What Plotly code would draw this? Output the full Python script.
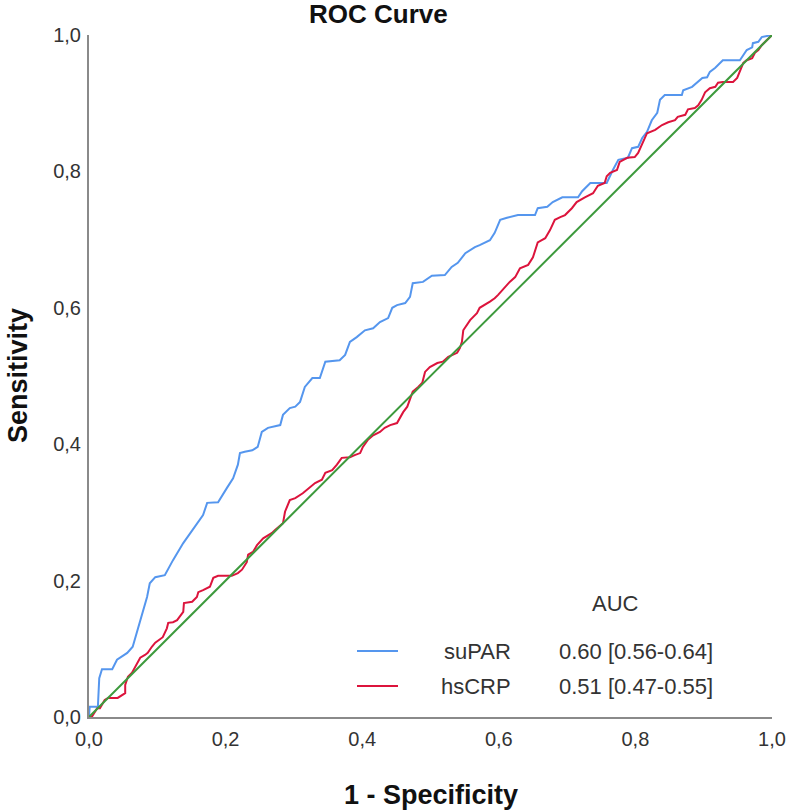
import plotly.graph_objects as go

# ---- data ----
supar_fpr = [0, 0.001, 0.013, 0.015, 0.019, 0.034, 0.041, 0.056, 0.064, 0.072, 0.079, 0.085, 0.089,
             0.097, 0.111, 0.123, 0.138, 0.152, 0.167, 0.173, 0.189, 0.202, 0.211, 0.218, 0.221,
             0.228, 0.239, 0.247, 0.253, 0.262, 0.280, 0.284, 0.294, 0.302, 0.309, 0.316, 0.327,
             0.338, 0.346, 0.367, 0.375, 0.382, 0.392, 0.404, 0.416, 0.426, 0.438, 0.444, 0.451,
             0.463, 0.470, 0.474, 0.489, 0.502, 0.521, 0.531, 0.540, 0.551, 0.565, 0.572, 0.587,
             0.594, 0.602, 0.612, 0.628, 0.653, 0.657, 0.671, 0.679, 0.693, 0.716, 0.722, 0.734,
             0.758, 0.763, 0.767, 0.775, 0.789, 0.795, 0.804, 0.810, 0.817, 0.824, 0.832, 0.836,
             0.843, 0.868, 0.870, 0.883, 0.890, 0.898, 0.905, 0.909, 0.917, 0.924, 0.928, 0.953,
             0.958, 0.963, 0.971, 0.972, 0.980, 0.985, 1.0]
supar_tpr = [0, 0.015, 0.015, 0.057, 0.070, 0.070, 0.084, 0.094, 0.103, 0.132, 0.154, 0.176, 0.196,
             0.205, 0.208, 0.230, 0.255, 0.274, 0.296, 0.314, 0.315, 0.336, 0.350, 0.370, 0.387,
             0.389, 0.391, 0.396, 0.418, 0.424, 0.428, 0.443, 0.453, 0.455, 0.462, 0.484, 0.497,
             0.497, 0.521, 0.523, 0.531, 0.550, 0.557, 0.567, 0.570, 0.579, 0.585, 0.600, 0.604,
             0.607, 0.616, 0.636, 0.638, 0.647, 0.648, 0.660, 0.666, 0.680, 0.689, 0.692, 0.699,
             0.710, 0.729, 0.732, 0.736, 0.736, 0.746, 0.748, 0.755, 0.762, 0.762, 0.771, 0.783,
             0.783, 0.795, 0.802, 0.817, 0.820, 0.834, 0.836, 0.849, 0.858, 0.875, 0.886, 0.905,
             0.912, 0.912, 0.919, 0.924, 0.930, 0.937, 0.938, 0.946, 0.952, 0.959, 0.963, 0.963,
             0.971, 0.978, 0.982, 0.988, 0.990, 0.997, 1.0]

hscrp_fpr = [0, 0.004, 0.012, 0.016, 0.023, 0.028, 0.042, 0.048, 0.053, 0.053, 0.057, 0.063, 0.070,
             0.075, 0.082, 0.086, 0.092, 0.097, 0.108, 0.114, 0.116, 0.123, 0.129, 0.138, 0.139,
             0.151, 0.158, 0.160, 0.167, 0.177, 0.182, 0.189, 0.209, 0.218, 0.224, 0.231, 0.233,
             0.240, 0.246, 0.255, 0.268, 0.272, 0.284, 0.287, 0.294, 0.302, 0.313, 0.324, 0.331,
             0.341, 0.346, 0.356, 0.363, 0.370, 0.382, 0.389, 0.397, 0.401, 0.408, 0.416, 0.426,
             0.433, 0.441, 0.451, 0.455, 0.460, 0.466, 0.470, 0.474, 0.482, 0.488, 0.492, 0.499,
             0.510, 0.518, 0.526, 0.539, 0.543, 0.546, 0.548, 0.558, 0.568, 0.572, 0.587, 0.594,
             0.599, 0.609, 0.616, 0.624, 0.631, 0.643, 0.650, 0.657, 0.668, 0.675, 0.682, 0.690,
             0.697, 0.707, 0.714, 0.726, 0.738, 0.745, 0.755, 0.758, 0.763, 0.773, 0.777, 0.788,
             0.799, 0.804, 0.811, 0.817, 0.829, 0.839, 0.848, 0.858, 0.862, 0.873, 0.877, 0.887,
             0.892, 0.897, 0.902, 0.909, 0.917, 0.921, 0.928, 0.943, 0.949, 0.953, 0.958, 0.963,
             0.971, 0.975, 0.980, 0.985, 0.993, 1.0]
hscrp_tpr = [0, 0, 0.013, 0.013, 0.025, 0.028, 0.028, 0.032, 0.035, 0.047, 0.059, 0.065, 0.079,
             0.087, 0.091, 0.094, 0.103, 0.109, 0.117, 0.130, 0.138, 0.139, 0.142, 0.154, 0.167,
             0.169, 0.176, 0.183, 0.186, 0.191, 0.204, 0.207, 0.207, 0.211, 0.216, 0.227, 0.238,
             0.242, 0.252, 0.262, 0.270, 0.274, 0.284, 0.301, 0.318, 0.321, 0.328, 0.337, 0.343,
             0.348, 0.358, 0.362, 0.370, 0.380, 0.381, 0.384, 0.387, 0.396, 0.406, 0.413, 0.418,
             0.424, 0.428, 0.431, 0.438, 0.447, 0.455, 0.465, 0.477, 0.484, 0.490, 0.506, 0.513,
             0.519, 0.521, 0.528, 0.534, 0.541, 0.550, 0.567, 0.582, 0.592, 0.600, 0.609, 0.614,
             0.619, 0.630, 0.638, 0.645, 0.658, 0.663, 0.674, 0.696, 0.702, 0.714, 0.729, 0.733,
             0.736, 0.746, 0.755, 0.762, 0.768, 0.779, 0.783, 0.793, 0.798, 0.802, 0.814, 0.820,
             0.821, 0.827, 0.842, 0.856, 0.861, 0.868, 0.872, 0.875, 0.880, 0.883, 0.891, 0.893,
             0.897, 0.905, 0.916, 0.922, 0.924, 0.930, 0.931, 0.931, 0.937, 0.946, 0.959, 0.963,
             0.966, 0.974, 0.978, 0.985, 0.993, 1.0]

ref_x = [0, 1]
ref_y = [0, 1]

tick_vals = [0, 0.2, 0.4, 0.6, 0.8, 1.0]
tick_text = ["0,0", "0,2", "0,4", "0,6", "0,8", "1,0"]

series_names = ["suPAR", "hsCRP"]
auc_labels = ["0.60 [0.56-0.64]", "0.51 [0.47-0.55]"]
colors = ["#5596ee", "#dc143c"]
ref_color = "#3d9a3d"

FONT = "Liberation Sans, Arial, sans-serif"

fig = go.Figure()
fig.add_trace(go.Scatter(x=supar_fpr, y=supar_tpr, mode="lines", name=series_names[0],
                         line=dict(color=colors[0], width=2)))
fig.add_trace(go.Scatter(x=hscrp_fpr, y=hscrp_tpr, mode="lines", name=series_names[1],
                         line=dict(color=colors[1], width=2)))
fig.add_trace(go.Scatter(x=ref_x, y=ref_y, mode="lines", name="Reference",
                         line=dict(color=ref_color, width=2)))

axis_common = dict(range=[0, 1], tickvals=tick_vals, ticktext=tick_text, showgrid=False,
                   zeroline=False, showline=True, linecolor="#8a8a8a", linewidth=2,
                   ticks="", automargin=False,
                   tickfont=dict(family=FONT, size=20, color="#333333"))
fig.update_xaxes(**axis_common, ticklabelstandoff=3)
fig.update_yaxes(**axis_common, ticklabelstandoff=2)

annotations = [
    dict(text="<b>ROC Curve</b>", xref="paper", yref="paper", x=(378 - 89) / 683, y=1,
         yshift=21, xanchor="center", yanchor="middle", showarrow=False,
         font=dict(family=FONT, size=26, color="#111111")),
    dict(text="<b>1 - Specificity</b>", xref="paper", yref="paper", x=0.5, y=0,
         yshift=-78, xanchor="center", yanchor="middle", showarrow=False,
         font=dict(family=FONT, size=27, color="#111111")),
    dict(text="<b>Sensitivity</b>", xref="paper", yref="paper", x=0, xshift=-71, y=0.5,
         xanchor="center", yanchor="middle", textangle=-90, showarrow=False,
         font=dict(family=FONT, size=27, color="#111111")),
    dict(text="AUC", xref="paper", yref="paper", x=(615 - 89) / 683, y=(717 - 603) / 682,
         xanchor="center", yanchor="middle", showarrow=False,
         font=dict(family=FONT, size=22, color="#333333")),
]
shapes = []
row_y = [651, 686]
for i, name in enumerate(series_names):
    yy = (717 - row_y[i]) / 682
    shapes.append(dict(type="line", xref="paper", yref="paper",
                       x0=(357 - 89) / 683, x1=(398 - 89) / 683, y0=yy, y1=yy,
                       line=dict(color=colors[i], width=2)))
    annotations.append(dict(text=name, xref="paper", yref="paper", x=(513 - 89) / 683,
                            y=yy, xanchor="right", yanchor="middle", showarrow=False,
                            font=dict(family=FONT, size=22, color="#333333")))
    annotations.append(dict(text=auc_labels[i], xref="paper", yref="paper", x=(557 - 89) / 683,
                            y=yy, xanchor="left", yanchor="middle", showarrow=False,
                            font=dict(family=FONT, size=22, color="#333333")))

fig.update_layout(width=787, height=810, margin=dict(l=89, r=15, t=35, b=93),
                  plot_bgcolor="white", paper_bgcolor="white", showlegend=False,
                  annotations=annotations, shapes=shapes, font=dict(family=FONT))

# remove the default 8px page margin so the figure fills the window exactly
fig.write_html("out.html", config={"displayModeBar": False},
               post_script="document.body.style.margin='0';document.body.style.overflow='hidden';")
